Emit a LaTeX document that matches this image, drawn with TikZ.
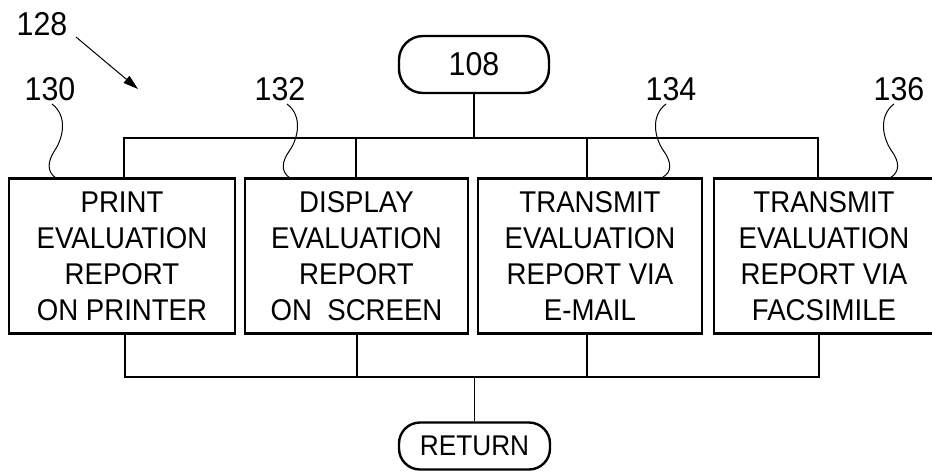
\documentclass[tikz,border=0pt]{standalone}
\usepackage{fontspec}
\setmainfont{Liberation Sans}
\newfontfamily\condfont[FakeStretch=0.92]{Liberation Sans}
\usetikzlibrary{arrows.meta}
\begin{document}
\begin{tikzpicture}[x=1pt,y=-1pt,
  box/.style={draw,line width=2.6pt,minimum width=224pt,minimum height=155pt,inner sep=0pt,align=center,font=\condfont\fontsize{30}{36}\selectfont},
  term/.style={draw,line width=2.4pt,rounded corners=24pt,inner sep=0pt},
  bus/.style={line width=1.3pt},
  lbl/.style={font=\condfont\fontsize{33}{36}\selectfont,inner sep=0pt},
  lead/.style={line width=1pt}]
\useasboundingbox (0,0) rectangle (932,472);
\clip (0,0) rectangle (932,472);

% terminals
\node[term,minimum width=150pt,minimum height=57pt,font=\condfont\fontsize{33}{36}\selectfont] (t108) at (474,64.5) {108};
\node[term,minimum width=151pt,minimum height=47pt,rounded corners=21pt,font=\condfont\fontsize{28.5}{32}\selectfont] (ret) at (474.5,446) {RETURN};

% boxes
\node[box,minimum width=226pt] (b1) at (122,256) {PRINT\\EVALUATION\\REPORT\\ON PRINTER};
\node[box,minimum width=223pt] (b2) at (356.5,256) {DISPLAY\\EVALUATION\\REPORT\\ON\ \ SCREEN};
\node[box] (b3) at (590,256) {TRANSMIT\\EVALUATION\\REPORT VIA\\E-MAIL};
\node[box,minimum width=220pt] (b4) at (824,256) {TRANSMIT\\EVALUATION\\REPORT VIA\\FACSIMILE};

% reference labels
\node[lbl] (l128) at (42,24) {128};
\node[lbl] (l130) at (50,89) {130};
\node[lbl] (l132) at (280,89) {132};
\node[lbl] (l134) at (671,89) {134};
\node[lbl] (l136) at (899,89) {136};

% bus junction coordinates
\coordinate (ta) at (124,138);
\coordinate (tb) at (356,138);
\coordinate (tc) at (587,138);
\coordinate (td) at (818,138);
\coordinate (ba) at (125,377);
\coordinate (bb) at (357,377);
\coordinate (bc) at (587,377);
\coordinate (bd) at (819,377);

% top bus
\draw[bus] (t108.south) -- (t108.south |- ta);
\draw[bus] (b1.north -| ta) -- (ta) -- (td) -- (b4.north -| td);
\draw[bus] (tb) -- (b2.north -| tb);
\draw[bus] (tc) -- (b3.north -| tc);

% bottom bus
\draw[bus] (b1.south -| ba) -- (ba) -- (bd) -- (b4.south -| bd);
\draw[bus] (b2.south -| bb) -- (bb);
\draw[bus] (b3.south -| bc) -- (bc);
\draw[bus] (ret.north |- ba) -- (ret.north);

% leader lines
\draw[lead,-{Triangle[length=15pt,width=9pt]}] (76,37) -- (138,89);
\draw[lead] (52,104) .. controls (68,116) and (63,138) .. (55,150) .. controls (47,162) and (47,172) .. (56,178);
\draw[lead] (287,104) .. controls (303,116) and (298,138) .. (290,150) .. controls (281,162) and (281,172) .. (290,178);
\draw[lead] (666,104) .. controls (650,116) and (655,138) .. (663,150) .. controls (672,162) and (672,172) .. (663,177);
\draw[lead] (894,104) .. controls (878,116) and (883,138) .. (891,150) .. controls (900,162) and (900,172) .. (890,178);
\end{tikzpicture}
\end{document}
